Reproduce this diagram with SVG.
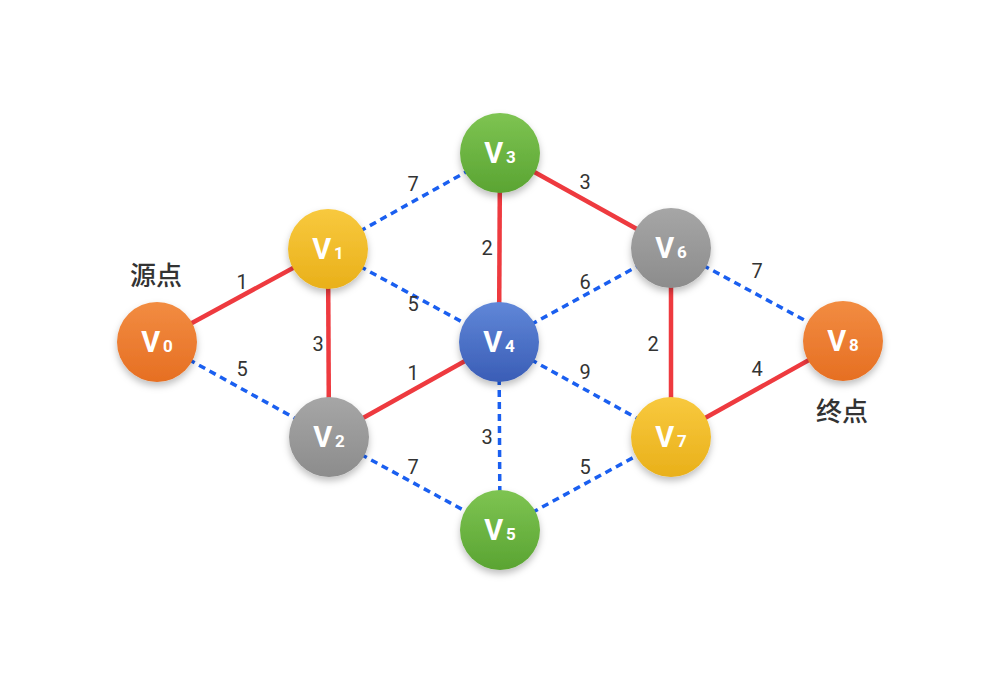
<svg xmlns="http://www.w3.org/2000/svg" width="1000" height="695" viewBox="0 0 1000 695">
<style>
.solid{stroke:#ee3a3f;stroke-width:4.5;fill:none}
.dash{stroke:#1a5ff0;stroke-width:3.5;stroke-dasharray:7 5;fill:none}
.w{font-family:Roboto,"Liberation Sans",sans-serif;font-size:20px;fill:#333;text-anchor:middle}
.nt{font-family:Roboto,"Liberation Sans",sans-serif;font-weight:bold;font-size:29px;fill:#fff;text-anchor:middle}
.sub{font-size:17px}
.cn{font-family:"Noto Sans CJK SC","Noto Sans",sans-serif;font-size:26px;font-weight:500;fill:#333;text-anchor:middle}
</style>
<defs>
<filter id="sh" x="-30%" y="-30%" width="160%" height="170%">
<feDropShadow dx="0" dy="4" stdDeviation="3.5" flood-color="#000" flood-opacity="0.25"/>
</filter>
<linearGradient id="gO" x1="0" y1="0" x2="0" y2="1"><stop offset="0" stop-color="#f28c42"/><stop offset="1" stop-color="#e66f22"/></linearGradient>
<linearGradient id="gY" x1="0" y1="0" x2="0" y2="1"><stop offset="0" stop-color="#f8c93e"/><stop offset="1" stop-color="#e9b01a"/></linearGradient>
<linearGradient id="gG" x1="0" y1="0" x2="0" y2="1"><stop offset="0" stop-color="#7ec452"/><stop offset="1" stop-color="#5aa432"/></linearGradient>
<linearGradient id="gB" x1="0" y1="0" x2="0" y2="1"><stop offset="0" stop-color="#6087d8"/><stop offset="1" stop-color="#3a5db6"/></linearGradient>
<linearGradient id="gR" x1="0" y1="0" x2="0" y2="1"><stop offset="0" stop-color="#a6a6a6"/><stop offset="1" stop-color="#8c8c8c"/></linearGradient>
</defs>
<rect width="1000" height="695" fill="#fff"/>
<g id="connectors">
<line class="solid" x1="157" y1="342" x2="328" y2="249"/>
<line class="dash" x1="157" y1="342" x2="329" y2="437"/>
<line class="solid" x1="328" y1="249" x2="329" y2="437"/>
<line class="dash" x1="328" y1="249" x2="500" y2="153"/>
<line class="dash" x1="328" y1="249" x2="499" y2="342"/>
<line class="solid" x1="329" y1="437" x2="499" y2="342"/>
<line class="dash" x1="329" y1="437" x2="500" y2="530"/>
<line class="solid" x1="500" y1="153" x2="499" y2="342"/>
<line class="solid" x1="500" y1="153" x2="671" y2="248"/>
<line class="dash" x1="499" y1="342" x2="500" y2="530"/>
<line class="dash" x1="499" y1="342" x2="671" y2="248"/>
<line class="dash" x1="499" y1="342" x2="671" y2="437"/>
<line class="dash" x1="500" y1="530" x2="671" y2="437"/>
<line class="solid" x1="671" y1="248" x2="671" y2="437"/>
<line class="dash" x1="671" y1="248" x2="843" y2="341"/>
<line class="solid" x1="671" y1="437" x2="843" y2="341"/>
</g>
<g id="weights">
<text class="w" x="242" y="289">1</text>
<text class="w" x="242" y="376">5</text>
<text class="w" x="318" y="351">3</text>
<text class="w" x="413" y="191">7</text>
<text class="w" x="413" y="311">5</text>
<text class="w" x="413" y="380">1</text>
<text class="w" x="413" y="474">7</text>
<text class="w" x="487" y="255">2</text>
<text class="w" x="487" y="444">3</text>
<text class="w" x="585" y="189">3</text>
<text class="w" x="585" y="289">6</text>
<text class="w" x="585" y="379">9</text>
<text class="w" x="585" y="474">5</text>
<text class="w" x="653" y="351">2</text>
<text class="w" x="757" y="278">7</text>
<text class="w" x="757" y="376">4</text>
</g>
<g id="labels">
<text class="cn" x="156" y="285">源点</text>
<text class="cn" x="842" y="421">终点</text>
</g>
<g id="V0"><circle cx="157" cy="342" r="40" fill="url(#gO)" filter="url(#sh)"/><text class="nt" x="157" y="352">V<tspan class="sub" dx="3">0</tspan></text></g>
<g id="V1"><circle cx="328" cy="249" r="40" fill="url(#gY)" filter="url(#sh)"/><text class="nt" x="328" y="259">V<tspan class="sub" dx="3">1</tspan></text></g>
<g id="V2"><circle cx="329" cy="437" r="40" fill="url(#gR)" filter="url(#sh)"/><text class="nt" x="329" y="447">V<tspan class="sub" dx="3">2</tspan></text></g>
<g id="V3"><circle cx="500" cy="153" r="40" fill="url(#gG)" filter="url(#sh)"/><text class="nt" x="500" y="163">V<tspan class="sub" dx="3">3</tspan></text></g>
<g id="V4"><circle cx="499" cy="342" r="40" fill="url(#gB)" filter="url(#sh)"/><text class="nt" x="499" y="352">V<tspan class="sub" dx="3">4</tspan></text></g>
<g id="V5"><circle cx="500" cy="530" r="40" fill="url(#gG)" filter="url(#sh)"/><text class="nt" x="500" y="540">V<tspan class="sub" dx="3">5</tspan></text></g>
<g id="V6"><circle cx="671" cy="248" r="40" fill="url(#gR)" filter="url(#sh)"/><text class="nt" x="671" y="258">V<tspan class="sub" dx="3">6</tspan></text></g>
<g id="V7"><circle cx="671" cy="437" r="40" fill="url(#gY)" filter="url(#sh)"/><text class="nt" x="671" y="447">V<tspan class="sub" dx="3">7</tspan></text></g>
<g id="V8"><circle cx="843" cy="341" r="40" fill="url(#gO)" filter="url(#sh)"/><text class="nt" x="843" y="351">V<tspan class="sub" dx="3">8</tspan></text></g>
</svg>
